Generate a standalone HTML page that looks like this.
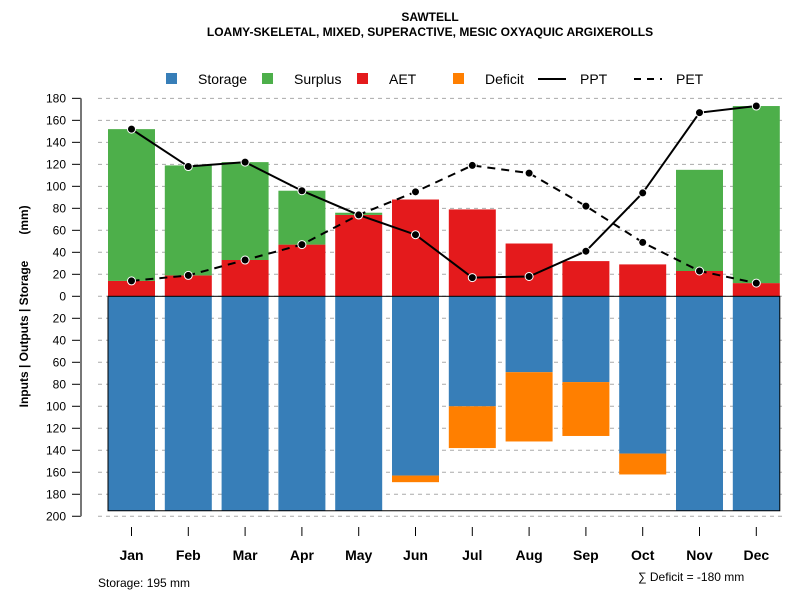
<!DOCTYPE html>
<html><head><meta charset="utf-8"><style>
body{margin:0;background:#fff}
svg{font-family:"Liberation Sans",sans-serif;display:block}
</style></head><body>
<svg id="c" width="800" height="600">
<text x="430" y="21" text-anchor="middle" font-size="12" font-weight="bold">SAWTELL</text>
<text x="430" y="36" text-anchor="middle" font-size="12" font-weight="bold">LOAMY-SKELETAL, MIXED, SUPERACTIVE, MESIC OXYAQUIC ARGIXEROLLS</text>
<text transform="translate(28,334) rotate(-90)" text-anchor="middle" font-size="12" font-weight="bold">Inputs | Outputs | Storage</text>
<text transform="translate(28,220) rotate(-90)" text-anchor="middle" font-size="12" font-weight="bold">(mm)</text>
<text x="98" y="587" font-size="12">Storage: 195 mm</text>
<text x="638" y="581" font-size="12">∑ Deficit = -180 mm</text>
<g id="grid"></g><g id="bars"></g><g id="lines"></g><g id="axes"></g>
<g font-size="14">
<rect x="166" y="73" width="11" height="11" fill="#377EB8"/><text x="198" y="84">Storage</text>
<rect x="262" y="73" width="11" height="11" fill="#4DAF4A"/><text x="294" y="84">Surplus</text>
<rect x="357" y="73" width="11" height="11" fill="#E41A1C"/><text x="389" y="84">AET</text>
<rect x="453" y="73" width="11" height="11" fill="#FF7F00"/><text x="485" y="84">Deficit</text>
<line x1="538" y1="79" x2="566" y2="79" stroke="#000" stroke-width="2"/><text x="580" y="84">PPT</text>
<line x1="634" y1="79" x2="662" y2="79" stroke="#000" stroke-width="2" stroke-dasharray="7,6"/><text x="676" y="84">PET</text>
</g>
</svg>
<script>
const months=["Jan","Feb","Mar","Apr","May","Jun","Jul","Aug","Sep","Oct","Nov","Dec"];
const aet=[14,19,33,47,74,88,79,48,32,29,23,12];
const surplus=[138,100,89,49,2,0,0,0,0,0,92,161];
const ppt=[152,118,122,96,74,56,17,18,41,94,167,173];
const pet=[14,19,33,47,74,95,119,112,82,49,23,12];
const storage=[195,195,195,195,195,163,100,69,78,143,195,195];
const deficit=[0,0,0,0,0,6,38,63,49,19,0,0];
const ticks=[180,160,140,120,100,80,60,40,20,0,-20,-40,-60,-80,-100,-120,-140,-160,-180,-200];
const maxStorage=195;
const NS="http://www.w3.org/2000/svg";
const y=v=>296.3-v*1.0998;
const x=i=>131.5+i*56.8;
const bw=47;
function mk(p,t,a){const e=document.createElementNS(NS,t);for(const k in a)e.setAttribute(k,a[k]);document.getElementById(p).appendChild(e);return e;}
ticks.forEach(t=>{
 const g=mk("grid","line",{x1:98,x2:783,y1:y(t),y2:y(t),stroke:"#aaa","stroke-dasharray":"4,4"});
 
 
 const tk=mk("axes","line",{x1:72,x2:81,y1:y(t),y2:y(t),stroke:"#000"});
 
 
 const l=mk("axes","text",{x:66,y:y(t)+4,"text-anchor":"end","font-size":12});
 l.textContent=Math.abs(t);
 
 
});
const ax=mk("axes","line",{x1:81,x2:81,y1:y(180),y2:y(-200),stroke:"#777","stroke-width":2});


months.forEach((m,i)=>{
 const cx=x(i),L=cx-bw/2;
 const s=mk("bars","rect",{x:L,y:y(0),width:bw,height:y(-storage[i])-y(0),fill:"#377EB8"});
 
 
 if(deficit[i]>0){const d=mk("bars","rect",{x:L,y:y(-storage[i]),width:bw,height:y(-storage[i]-deficit[i])-y(-storage[i]),fill:"#FF7F00"});
 
 }
 const a=mk("bars","rect",{x:L,y:y(aet[i]),width:bw,height:y(0)-y(aet[i]),fill:"#E41A1C"});
 
 
 if(surplus[i]>0){const su=mk("bars","rect",{x:L,y:y(aet[i]+surplus[i]),width:bw,height:y(aet[i])-y(aet[i]+surplus[i]),fill:"#4DAF4A"});
 
 }
 const t=mk("axes","line",{x1:cx,x2:cx,y1:527,y2:536,stroke:"#000"});
 
 
 const lb=mk("axes","text",{x:cx,y:560,"text-anchor":"middle","font-size":14,"font-weight":"bold"});
 lb.textContent=m;
 
 
});
const box=mk("bars","rect",{x:x(0)-bw/2,y:y(0),width:x(11)+bw/2-(x(0)-bw/2),height:y(-maxStorage)-y(0),fill:"none",stroke:"#000"});


function series(arr,name,dash){
 const p=mk("lines","polyline",{points:arr.map((v,i)=>x(i)+","+y(v)).join(" "),fill:"none",stroke:"#000","stroke-width":2,"stroke-dasharray":dash});
 
 
 arr.forEach((v,i)=>{const c=mk("lines","circle",{cx:x(i),cy:y(v),r:4,fill:"#000",stroke:"#fff","stroke-width":1});
 
 });
}
series(pet,"pet","8,6");
series(ppt,"ppt","none");
</script>
</body></html>
